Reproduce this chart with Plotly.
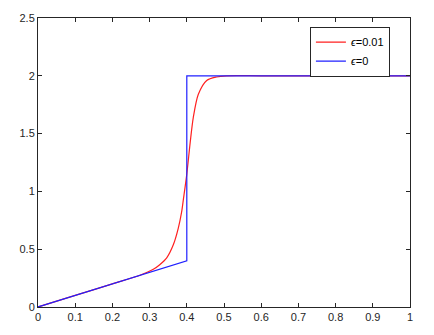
import plotly.graph_objects as go

# Data
red_x = [0, 0.1, 0.2, 0.274, 0.31, 0.328, 0.346, 0.364, 0.377, 0.386, 0.391, 0.40, 0.409,
         0.4175, 0.431, 0.4535, 0.48, 0.507, 0.6, 0.8, 1.0]
red_y = [0, 0.1, 0.2, 0.275, 0.326, 0.368, 0.425, 0.54, 0.68, 0.82, 0.935, 1.15, 1.42,
         1.64, 1.84, 1.96, 1.99, 2.0, 2.0, 2.0, 2.0]
blue_x = [0, 0.4, 0.4, 1.0]
blue_y = [0, 0.4, 2.0, 2.0]
x_ticks = [0, 0.1, 0.2, 0.3, 0.4, 0.5, 0.6, 0.7, 0.8, 0.9, 1]
y_ticks = [0, 0.5, 1, 1.5, 2, 2.5]

fig = go.Figure()
fig.add_trace(go.Scatter(x=red_x, y=red_y, mode="lines", name="<i>ϵ</i>=0.01",
                         line=dict(color="#ff2020", width=1.2, shape="spline", smoothing=0.8)))
fig.add_trace(go.Scatter(x=blue_x, y=blue_y, mode="lines", name="<i>ϵ</i>=0",
                         line=dict(color="#2020ff", width=1.2)))

axis_common = dict(showgrid=False, zeroline=False, showline=True, linecolor="#262626",
                   linewidth=1, mirror="ticks", ticks="inside", ticklen=4,
                   tickcolor="#262626", tickfont=dict(family="Liberation Sans", size=11, color="#262626"))
fig.update_layout(
    width=434, height=335,
    margin=dict(l=38, r=24, t=16, b=25),
    paper_bgcolor="white", plot_bgcolor="white",
    xaxis=dict(range=[0, 1], tickvals=x_ticks, ticktext=[str(v) for v in x_ticks], **axis_common),
    yaxis=dict(range=[0, 2.5], tickvals=y_ticks, ticktext=[str(v) for v in y_ticks], **axis_common),
    legend=dict(x=0.946, y=0.97, xanchor="right", yanchor="top", bordercolor="#262626",
                borderwidth=1, bgcolor="white",
                font=dict(family="Liberation Sans", size=11, color="#000"),
                tracegroupgap=0, itemwidth=30),
    showlegend=True,
)
fig.write_html("out.html")
